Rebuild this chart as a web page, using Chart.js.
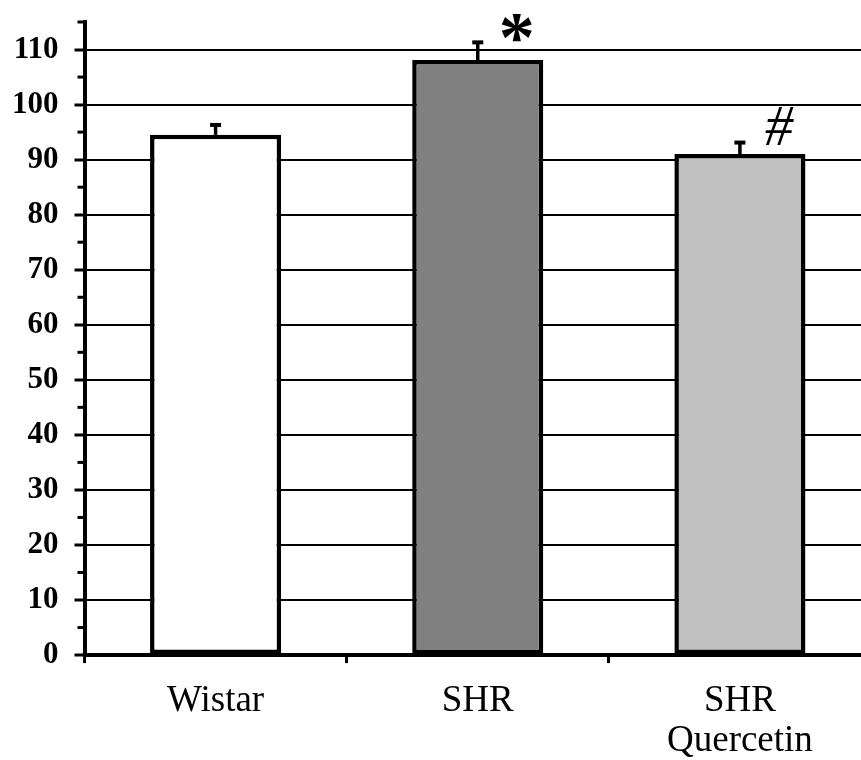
<!DOCTYPE html>
<html>
<head>
<meta charset="utf-8">
<script src="https://cdn.jsdelivr.net/npm/chart.js@4/dist/chart.umd.min.js"></script>
<style>
  html, body { margin: 0; padding: 0; background: #fff; overflow: hidden; }
  #wrap { width: 872px; height: 760px; position: relative; }
</style>
</head>
<body>
<div id="wrap"><canvas id="c"></canvas></div>
<script>
// ---- data ----
const categories = [["Wistar"], ["SHR"], ["SHR", "Quercetin"]];
const values = [94.5, 108.1, 91.0];
const errors = [1.8, 3.2, 2.1];
const marks = ["", "*", "#"];
const barColors = ["#ffffff", "#808080", "#c0c0c0"];
const yMin = 0, yMax = 115, yStep = 5, yLabelStep = 10;

const FONT = "'Liberation Serif', 'Times New Roman', serif";

const minorTicks = {
  id: 'minorTicks',
  afterDraw(chart) {
    const y = chart.scales.y, ctx = chart.ctx;
    const left = chart.chartArea.left;
    ctx.save();
    ctx.strokeStyle = '#000';
    ctx.lineWidth = 3;
    y.ticks.forEach(t => {
      if (t.value % yLabelStep !== 0) {
        const py = y.getPixelForValue(t.value);
        ctx.beginPath();
        ctx.moveTo(left - 7, py);
        ctx.lineTo(left, py);
        ctx.stroke();
      }
    });
    ctx.restore();
  }
};

const errorBars = {
  id: 'errorBars',
  afterDatasetsDraw(chart) {
    const ctx = chart.ctx, y = chart.scales.y;
    const meta = chart.getDatasetMeta(0);
    ctx.save();
    ctx.strokeStyle = '#000';
    ctx.fillStyle = '#000';
    meta.data.forEach((bar, i) => {
      const top = y.getPixelForValue(values[i]);
      const capY = y.getPixelForValue(values[i] + errors[i]);
      ctx.lineWidth = 3.5;
      ctx.beginPath();
      ctx.moveTo(bar.x, top);
      ctx.lineTo(bar.x, capY);
      ctx.stroke();
      ctx.lineWidth = 4;
      ctx.beginPath();
      ctx.moveTo(bar.x - 5.5, capY);
      ctx.lineTo(bar.x + 5.5, capY);
      ctx.stroke();
      if (marks[i]) {
        const isHash = marks[i] === '#';
        ctx.font = (isHash ? 'italic ' : 'bold ') + (isHash ? 56 : 72) + 'px ' + FONT;
        ctx.textAlign = 'center';
        ctx.textBaseline = 'alphabetic';
        const m = ctx.measureText(marks[i]);
        const cy = capY - (isHash ? 17 : 14);
        const by = cy + (m.actualBoundingBoxAscent - m.actualBoundingBoxDescent) / 2;
        ctx.fillText(marks[i], bar.x + 39, by);
      }
    });
    ctx.restore();
  }
};

new Chart(document.getElementById('c'), {
  type: 'bar',
  data: {
    labels: categories,
    datasets: [{
      data: values,
      backgroundColor: barColors,
      borderColor: '#000',
      borderWidth: 4.5,
      borderSkipped: false,
      barPercentage: 0.5,
      categoryPercentage: 1.0
    }]
  },
  options: {
    responsive: true,
    maintainAspectRatio: false,
    animation: false,
    layout: { padding: { top: 22, left: -4, right: 1, bottom: -19 } },
    plugins: { legend: { display: false }, tooltip: { enabled: false } },
    scales: {
      x: {
        grid: {
          offset: true,
          drawOnChartArea: false,
          drawTicks: true,
          tickLength: 8,
          tickWidth: 3,
          tickColor: '#000',
          color: '#000'
        },
        border: { display: true, color: '#000', width: 4 },
        ticks: {
          color: '#000',
          padding: 18,
          font: { family: FONT, size: 37, lineHeight: 1.08 }
        }
      },
      y: {
        min: yMin,
        max: yMax,
        grid: {
          color: c => (c.tick && c.tick.value % yLabelStep === 0 && c.tick.value !== 0) ? '#000' : 'rgba(0,0,0,0)',
          lineWidth: 2,
          tickLength: 10,
          tickWidth: 3,
          tickColor: c => (c.tick && c.tick.value % yLabelStep === 0) ? '#000' : 'rgba(0,0,0,0)'
        },
        border: { display: true, color: '#000', width: 4 },
        ticks: {
          stepSize: yStep,
          autoSkip: false,
          color: '#000',
          padding: 16,
          font: c => (c.tick && c.tick.value % yLabelStep !== 0)
            ? { family: FONT, size: 1 }
            : { family: FONT, size: 31, weight: 'bold' },
          callback: v => (v % yLabelStep === 0 ? String(v) : '')
        }
      }
    }
  },
  plugins: [minorTicks, errorBars]
});
</script>
</body>
</html>
